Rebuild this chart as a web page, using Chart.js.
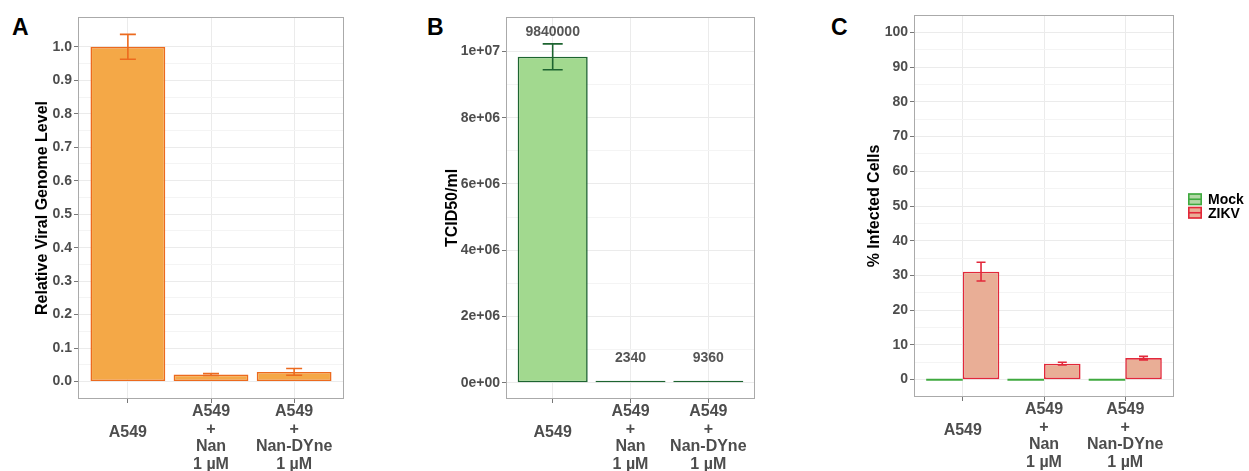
<!DOCTYPE html>
<html><head><meta charset="utf-8">
<script src="https://cdn.jsdelivr.net/npm/chart.js@4.4.1/dist/chart.umd.min.js"></script>
<style>
html,body{margin:0;padding:0;background:#fff;width:1249px;height:471px;overflow:hidden;position:relative;}
.pan{position:absolute;top:0;}
.letter{position:absolute;font:bold 23px "Liberation Sans",Arial,sans-serif;color:#000;line-height:24px;}
</style></head><body>
<div class="letter" style="left:12px;top:15px">A</div>
<div class="letter" style="left:427px;top:15px">B</div>
<div class="letter" style="left:831px;top:15px">C</div>
<div class="pan" style="left:0px"><canvas id="cA" width="360" height="471"></canvas></div>
<div class="pan" style="left:400px"><canvas id="cB" width="380" height="471"></canvas></div>
<div class="pan" style="left:820px"><canvas id="cC" width="429" height="471"></canvas></div>
<script>
// ---------- data ----------
const categories = [['A549'], ['A549', '+', 'Nan', '1 µM'], ['A549', '+', 'Nan-DYne', '1 µM']];
const genomeLevel = [1.0, 0.021, 0.029];
const genomeLevelErr = [0.037, 0.003, 0.010];
const tcid50 = [9840000, 2340, 9360];
const tcid50Err = [390000, 0, 0];
const tcid50Labels = ['9840000', '2340', '9360'];
const mockInfected = [0, 0, 0];
const zikvInfected = [31.1, 4.6, 6.2];
const zikvInfectedErr = [2.7, 0.4, 0.5];
const seriesNames = ['Mock', 'ZIKV'];
const yTicksA = [0, 0.1, 0.2, 0.3, 0.4, 0.5, 0.6, 0.7, 0.8, 0.9, 1.0];
const yTickLabelsA = ['0.0', '0.1', '0.2', '0.3', '0.4', '0.5', '0.6', '0.7', '0.8', '0.9', '1.0'];
const yTicksB = [0, 2e6, 4e6, 6e6, 8e6, 1e7];
const yTickLabelsB = ['0e+00', '2e+06', '4e+06', '6e+06', '8e+06', '1e+07'];
const yTicksC = [0, 10, 20, 30, 40, 50, 60, 70, 80, 90, 100];
const yTickLabelsC = ['0', '10', '20', '30', '40', '50', '60', '70', '80', '90', '100'];

// ---------- helpers ----------
const FONT = '"Liberation Sans", Arial, sans-serif';
const xs = [1, 2, 3];
const pts = arr => arr.map((v, i) => ({x: xs[i], y: v}));
function withMinor(major) {
  const out = [];
  for (let i = 0; i < major.length; i++) {
    out.push(major[i]);
    if (i < major.length - 1) out.push((major[i] + major[i + 1]) / 2);
  }
  return out;
}
function isMajor(major, v) { return major.some(m => Math.abs(m - v) < 1e-9 * Math.max(1, Math.abs(m))); }

const framePlugin = {
  id: 'frame',
  afterDraw(chart) {
    const a = chart.chartArea, ctx = chart.ctx;
    ctx.save(); ctx.strokeStyle = '#aaaaaa'; ctx.lineWidth = 1;
    ctx.strokeRect(Math.round(a.left) + 0.5, Math.round(a.top) + 0.5, Math.round(a.right - a.left) - 1, Math.round(a.bottom - a.top) - 1);
    ctx.restore();
  }
};
const errorBarPlugin = {
  id: 'errbars',
  afterDatasetsDraw(chart) {
    const ctx = chart.ctx, y = chart.scales.y;
    chart.data.datasets.forEach((ds, di) => {
      if (!ds.errors) return;
      const meta = chart.getDatasetMeta(di);
      meta.data.forEach((bar, i) => {
        const e = ds.errors[i];
        if (!e) return;
        const v = ds.data[i].y;
        const t = y.getPixelForValue(v + e), b = y.getPixelForValue(v - e);
        const hw = ds.capWidth / 2;
        ctx.save(); ctx.strokeStyle = ds.errorColor; ctx.lineWidth = 1.6;
        ctx.beginPath();
        ctx.moveTo(bar.x, t); ctx.lineTo(bar.x, b);
        ctx.moveTo(bar.x - hw, t); ctx.lineTo(bar.x + hw, t);
        ctx.moveTo(bar.x - hw, b); ctx.lineTo(bar.x + hw, b);
        ctx.stroke(); ctx.restore();
      });
    });
  }
};

function xAxis(h) {
  return {
    type: 'linear', min: 0.4, max: 3.6, offset: false,
    afterBuildTicks: s => { s.ticks = xs.map(v => ({value: v})); },
    afterFit: s => { s.height = h; },
    border: {display: false},
    grid: {offset: false, color: '#ebebeb', lineWidth: 1, tickLength: 4, tickColor: '#777'},
    ticks: {
      callback: v => categories[v - 1],
      autoSkip: false, maxRotation: 0, minRotation: 0, padding: 0, crossAlign: 'near',
      color: '#4d4d4d',
      font: c => ({family: FONT, size: 16, weight: 'bold',
                   lineHeight: (categories[c.index] && categories[c.index].length === 1) ? 3.75 : 1.1})
    }
  };
}
function yAxis(min, max, major, labels, w, title, titlePad) {
  const all = withMinor(major);
  return {
    type: 'linear', min: min, max: max,
    afterBuildTicks: s => { s.ticks = all.map(v => ({value: v})); },
    afterFit: s => { s.width = w; },
    border: {display: false},
    grid: {
      color: c => isMajor(major, c.tick.value) ? '#ebebeb' : '#f4f4f4',
      lineWidth: 1, tickLength: 4,
      tickColor: c => isMajor(major, c.tick.value) ? '#777' : 'rgba(0,0,0,0)'
    },
    ticks: {
      autoSkip: false, padding: 2,
      callback: v => { const i = major.findIndex(m => Math.abs(m - v) < 1e-9 * Math.max(1, Math.abs(m))); return i >= 0 ? labels[i] : ''; },
      color: '#4d4d4d', font: {family: FONT, size: 14, weight: 'bold'}
    },
    title: {display: true, text: title, color: '#000', font: {family: FONT, size: 16, weight: 'bold'}, padding: {top: titlePad, bottom: 0}}
  };
}
const common = {
  responsive: false, animation: false, events: [],
  plugins: {legend: {display: false}, tooltip: {enabled: false}}
};

// ---------- Panel A ----------
new Chart(document.getElementById('cA'), {
  type: 'bar',
  data: {datasets: [{
    label: 'Relative Viral Genome Level', data: pts(genomeLevel), errors: genomeLevelErr,
    backgroundColor: '#f4a847', borderColor: '#ec6a1e', borderWidth: 1.6, borderSkipped: false,
    categoryPercentage: 0.9, barPercentage: 1.0, capWidth: 16, errorColor: '#ec6a1e'
  }]},
  options: Object.assign({}, common, {
    layout: {padding: {top: 17, right: 16, left: 0, bottom: 0}},
    scales: {x: xAxis(72), y: yAxis(-0.052, 1.089, yTicksA, yTickLabelsA, 78, 'Relative Viral Genome Level', 33)}
  }),
  plugins: [errorBarPlugin, framePlugin]
});

// ---------- Panel B ----------
const valueLabelPlugin = {
  id: 'vlabels',
  afterDatasetsDraw(chart) {
    const ctx = chart.ctx, y = chart.scales.y, meta = chart.getDatasetMeta(0);
    const nudge = 730000;
    ctx.save(); ctx.fillStyle = '#555'; ctx.font = 'bold 14px ' + FONT;
    ctx.textAlign = 'center'; ctx.textBaseline = 'middle';
    meta.data.forEach((bar, i) => {
      ctx.fillText(tcid50Labels[i], bar.x, y.getPixelForValue(tcid50[i] + nudge));
    });
    ctx.restore();
  }
};
new Chart(document.getElementById('cB'), {
  type: 'bar',
  data: {datasets: [{
    label: 'TCID50/ml', data: pts(tcid50), errors: tcid50Err,
    backgroundColor: '#a2d98f', borderColor: '#1d6430', borderWidth: 1.6, borderSkipped: false, minBarLength: 2,
    categoryPercentage: 0.9, barPercentage: 1.0, capWidth: 20, errorColor: '#1d6430'
  }]},
  options: Object.assign({}, common, {
    layout: {padding: {top: 17, right: 25, left: 0, bottom: 0}},
    scales: {x: xAxis(72), y: yAxis(-490000, 11040000, yTicksB, yTickLabelsB, 106, 'TCID50/ml', 43)}
  }),
  plugins: [errorBarPlugin, valueLabelPlugin, framePlugin]
});

// ---------- Panel C ----------
const legendPlugin = {
  id: 'sideLegend',
  afterDraw(chart) {
    const ctx = chart.ctx, a = chart.chartArea;
    const x0 = a.right + 14, cy = (a.top + a.bottom) / 2;
    const n = chart.data.datasets.length, rowH = 13.5;
    ctx.save();
    chart.data.datasets.forEach((ds, i) => {
      const yc = cy - (n * rowH) / 2 + rowH * (i + 0.5);
      const bx = x0, by = yc - 6, bw = 14, bh = 12;
      ctx.fillStyle = ds.legendFill; ctx.fillRect(bx, by, bw, bh);
      ctx.strokeStyle = ds.legendStroke; ctx.lineWidth = 1.6;
      ctx.strokeRect(bx + 0.8, by + 0.8, bw - 1.6, bh - 1.6);
      ctx.beginPath(); ctx.moveTo(bx, yc); ctx.lineTo(bx + bw, yc); ctx.stroke();
      ctx.fillStyle = '#000'; ctx.font = 'bold 14px ' + FONT;
      ctx.textAlign = 'left'; ctx.textBaseline = 'middle';
      ctx.fillText(ds.label, bx + bw + 6, yc + 1);
    });
    ctx.restore();
  }
};
new Chart(document.getElementById('cC'), {
  type: 'bar',
  data: {datasets: [
    {label: seriesNames[0], data: pts(mockInfected), backgroundColor: '#3fa93f', borderWidth: 0, minBarLength: 2,
     categoryPercentage: 0.9, barPercentage: 1.0, legendFill: '#b3d8a6', legendStroke: '#3fa93f'},
    {label: seriesNames[1], data: pts(zikvInfected), errors: zikvInfectedErr,
     backgroundColor: '#e9ae96', borderColor: '#e2283a', borderWidth: 1.6, borderSkipped: false,
     categoryPercentage: 0.9, barPercentage: 1.0, capWidth: 9, errorColor: '#e2283a',
     legendFill: '#e9ae96', legendStroke: '#e2283a'}
  ]},
  options: Object.assign({}, common, {
    layout: {padding: {top: 15, right: 75, left: 0, bottom: 0}},
    scales: {x: xAxis(74), y: yAxis(-5, 105, yTicksC, yTickLabelsC, 94, '% Infected Cells', 45)}
  }),
  plugins: [errorBarPlugin, legendPlugin, framePlugin]
});
</script>
</body></html>
